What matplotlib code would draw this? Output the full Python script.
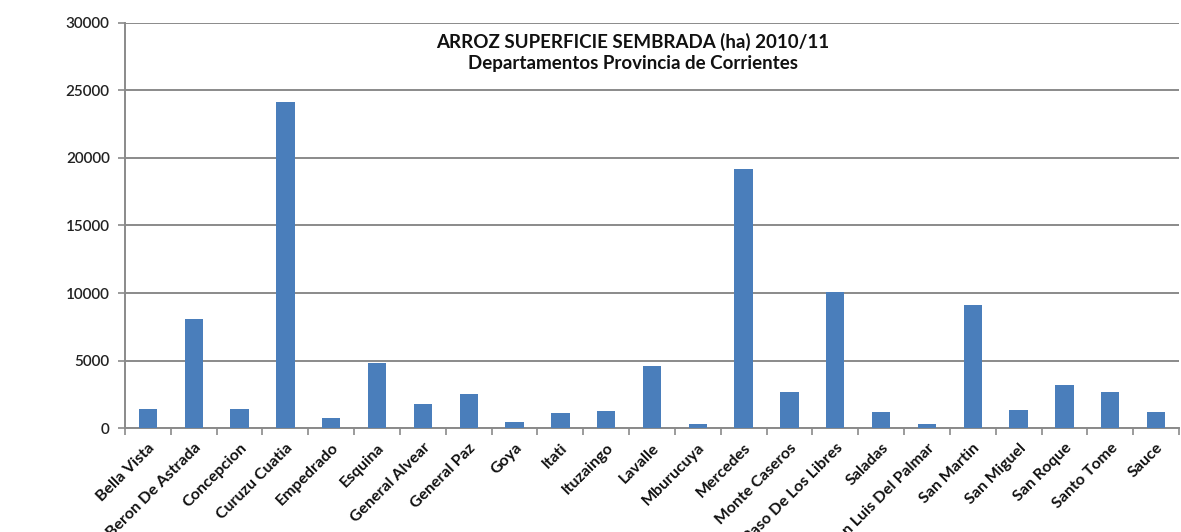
import numpy as np
import matplotlib
matplotlib.use('Agg')
import matplotlib.pyplot as plt

departamentos = [
    "Bella Vista", "Beron De Astrada", "Concepcion", "Curuzu Cuatia",
    "Empedrado", "Esquina", "General Alvear", "General Paz", "Goya",
    "Itati", "Ituzaingo", "Lavalle", "Mburucuya", "Mercedes",
    "Monte Caseros", "Paso De Los Libres", "Saladas", "San Luis Del Palmar",
    "San Martin", "San Miguel", "San Roque", "Santo Tome", "Sauce",
]
superficie_ha = [
    1400, 8100, 1450, 24100, 750, 4850, 1800, 2550, 500,
    1100, 1280, 4600, 300, 19200, 2720, 10050, 1200, 300,
    9080, 1330, 3230, 2720, 1230,
]
y_ticks = [0, 5000, 10000, 15000, 20000, 25000, 30000]

plt.rcParams['font.family'] = ['Lato', 'DejaVu Sans']

fig = plt.figure(figsize=(11.81, 5.32), dpi=100)
ax = fig.add_axes([125 / 1181, 1 - 428.3 / 532, 1054 / 1181, (428.3 - 22.5) / 532])

x = np.arange(len(departamentos))
ax.bar(x, superficie_ha, width=0.4, color='#4A7EBB', zorder=3)

ax.set_xlim(-0.5, len(departamentos) - 0.5)
ax.set_ylim(0, 30000)
ax.set_yticks(y_ticks)
ax.set_yticklabels([str(v) for v in y_ticks], fontsize=11, fontweight='semibold',
                   color='#222222')
ax.grid(axis='y', color='#8a8a8a', linewidth=1.4, zorder=0)

# category labels, cut at the bottom edge like the original
ax.set_xticks(x)
ax.set_xticklabels(departamentos, rotation=45, ha='right', rotation_mode='anchor',
                   fontsize=11.5, fontweight='bold', color='#111111')
ax.set_xticks(np.arange(-0.5, len(departamentos)), minor=True)
ax.tick_params(axis='x', which='major', length=0, pad=9)
ax.tick_params(axis='x', which='minor', length=5, color='#8a8a8a', width=1.2)
ax.tick_params(axis='y', length=5, color='#8a8a8a', width=1.2, pad=6)

for side in ['top', 'right']:
    ax.spines[side].set_visible(False)
for side in ['left', 'bottom']:
    ax.spines[side].set_color('#8a8a8a')
    ax.spines[side].set_linewidth(1.4)

fig.text(633 / 1181, 1 - 42 / 532, "ARROZ SUPERFICIE SEMBRADA (ha) 2010/11",
         ha='center', va='center', fontsize=13.5, fontweight='bold', color='#111111')
fig.text(633 / 1181, 1 - 63 / 532, "Departamentos Provincia de Corrientes",
         ha='center', va='center', fontsize=13.5, fontweight='bold', color='#111111')

fig.savefig("out.png", dpi=100, facecolor='white')
